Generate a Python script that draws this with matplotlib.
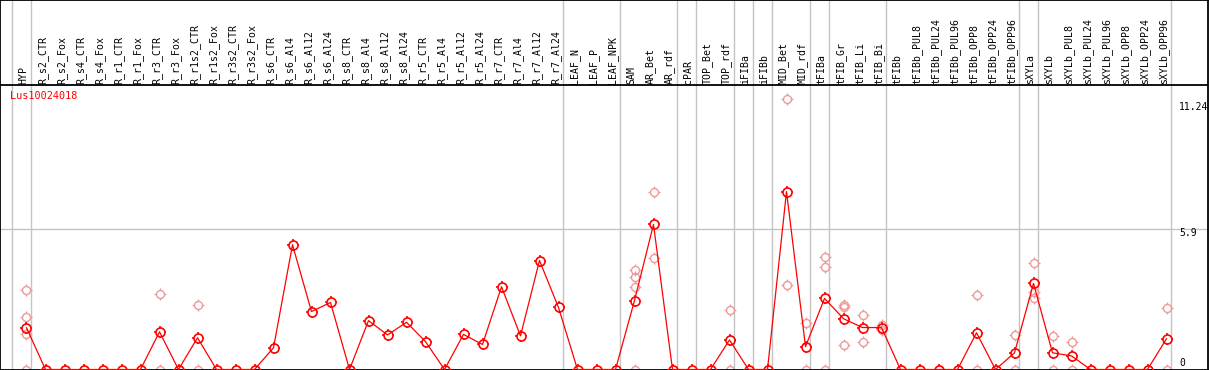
import matplotlib
matplotlib.use("Agg")
import matplotlib.pyplot as plt
from matplotlib.path import Path
import numpy as np

# ---------------- data ----------------
samples = ["HYP", "R_s2_CTR", "R_s2_Fox", "R_s4_CTR", "R_s4_Fox", "R_r1_CTR", "R_r1_Fox",
           "R_r3_CTR", "R_r3_Fox", "R_r1s2_CTR", "R_r1s2_Fox", "R_r3s2_CTR", "R_r3s2_Fox",
           "R_s6_CTR", "R_s6_Al4", "R_s6_Al12", "R_s6_Al24", "R_s8_CTR", "R_s8_Al4",
           "R_s8_Al12", "R_s8_Al24", "R_r5_CTR", "R_r5_Al4", "R_r5_Al12", "R_r5_Al24",
           "R_r7_CTR", "R_r7_Al4", "R_r7_Al12", "R_r7_Al24", "LEAF_N", "LEAF_P", "LEAF_NPK",
           "SAM", "AR_Bet", "AR_rdf", "cPAR", "TOP_Bet", "TOP_rdf", "iFIBa", "iFIBb",
           "MID_Bet", "MID_rdf", "tFIBa", "tFIB_Gr", "tFIB_Li", "tFIB_Bi", "tFIBb",
           "tFIBb_PUL8", "tFIBb_PUL24", "tFIBb_PUL96", "tFIBb_OPP8", "tFIBb_OPP24",
           "tFIBb_OPP96", "sXYLa", "sXYLb", "sXYLb_PUL8", "sXYLb_PUL24", "sXYLb_PUL96",
           "sXYLb_OPP8", "sXYLb_OPP24", "sXYLb_OPP96"]

means = [1.75, 0, 0, 0, 0, 0, 0,
         1.58, 0, 1.33, 0, 0, 0,
         0.91, 5.23, 2.43, 2.81, 0, 2.05,
         1.45, 1.98, 1.17, 0, 1.47, 1.05,
         3.47, 1.41, 4.57, 2.60, 0, 0, 0,
         2.89, 6.08, 0, 0, 0, 1.24, 0, 0,
         7.46, 0.96, 2.98, 2.13, 1.76, 1.76, 0,
         0, 0, 0, 1.54, 0,
         0.70, 3.61, 0.70, 0.57, 0, 0,
         0, 0, 1.29]

replicates = {
    "HYP": [3.34, 2.21, 1.50, 0],
    "R_r3_CTR": [3.17, 0],
    "R_r1s2_CTR": [2.71, 0],
    "SAM": [4.19, 3.89, 3.47, 0],
    "AR_Bet": [7.45, 4.68],
    "TOP_rdf": [2.50, 0],
    "MID_Bet": [11.35, 3.55],
    "MID_rdf": [1.97, 0],
    "tFIBa": [4.70, 4.28, 0],
    "tFIB_Gr": [2.71, 2.64, 1.04],
    "tFIB_Li": [2.29, 1.17],
    "tFIB_Bi": [1.87, 1.66],
    "tFIBb_OPP8": [3.13, 0],
    "tFIBb_OPP96": [1.45, 0],
    "sXYLa": [4.47, 3.27, 2.99],
    "sXYLb": [1.41, 0],
    "sXYLb_PUL8": [1.17, 0],
    "sXYLb_OPP96": [2.59, 0],
}

# group boundaries: gridline drawn just after these sample indices
group_ends = [-1, 0, 28, 31, 34, 35, 37, 38, 39, 41, 42, 45, 52, 53, 60]

gene = "Lus10024018"
y_ticks = [0, 5.9, 11.24]
y_tick_labels = ["0", "5.9", "11.24"]

# ---------------- layout ----------------
W, H = 1209, 370
K = 23.85          # pixels per unit
X0, DX = 26.5, 19.0  # pixel of first sample, spacing
AX_W = 1208

fig = plt.figure(figsize=(W / 100, H / 100), dpi=100)
ax = fig.add_axes([0, 0, AX_W / W, 1])
ax.set_xlim(-X0 / DX, (AX_W - X0) / DX)
ax.set_ylim(-0.5 / K, 369.5 / K)
ax.set_xticks([])
ax.set_yticks([])
for s in ax.spines.values():
    s.set_linewidth(1.3)
    s.set_color("black")

def row_to_val(row):
    return (369.5 - row) / K

GRID = "#c4c4c4"
for b in group_ends:
    ax.axvline(b + 4.5 / DX, color=GRID, lw=1.0, zorder=1)
ax.axhline(y_ticks[1], color=GRID, lw=1.0, zorder=1)
ax.axhline(row_to_val(85), color="black", lw=1.3, zorder=5)

# tick marks around the circular markers
tick_path = Path([(1, 0), (1.4, 0), (-1, 0), (-1.4, 0), (0, 1), (0, 1.4), (0, -1), (0, -1.4)],
                 [Path.MOVETO, Path.LINETO] * 4)

x = np.arange(len(samples))
rx, ry = [], []
for name, vals in replicates.items():
    i = samples.index(name)
    for v in vals:
        rx.append(i)
        ry.append(v)

PALE = "#ec9a9a"
RED = "#ff0000"
d_rep, d_mean = 8.0, 9.0  # marker diameters in px
ax.plot(rx, ry, linestyle="none", marker="o", markersize=d_rep * 0.72,
        markerfacecolor="none", markeredgecolor=PALE, markeredgewidth=1.0, zorder=2)
ax.plot(rx, ry, linestyle="none", marker=tick_path, markersize=d_rep * 1.4 * 0.72,
        markeredgecolor=PALE, markeredgewidth=1.0, zorder=2)
ax.plot(x, means, color=RED, lw=0.9, zorder=3)
ax.plot(x, means, linestyle="none", marker="o", markersize=d_mean * 0.72,
        markerfacecolor="none", markeredgecolor=RED, markeredgewidth=1.2, zorder=4)
ax.plot(x, means, linestyle="none", marker=tick_path, markersize=d_mean * 1.4 * 0.72,
        markeredgecolor=RED, markeredgewidth=1.2, zorder=4)

mono = "DejaVu Sans Mono"
for i, name in enumerate(samples):
    ax.text(i - 3.0 / DX, row_to_val(84), name, rotation=90, ha="center", va="bottom",
            fontsize=7.1, family=mono, color="black")

ax.text((10 - X0) / DX, row_to_val(96), gene, ha="left", va="center",
        fontsize=7.3, family=mono, color=RED)

lab_x = (1179 - X0) / DX
offsets = {0: 6.7, 1: -4.0, 2: -5.8}
for j, (v, lab) in enumerate(zip(y_ticks, y_tick_labels)):
    ax.annotate(lab, (lab_x, v), xytext=(0, offsets[j]), textcoords="offset pixels",
                ha="left", va="center", fontsize=7.0, family=mono, color="black")

fig.savefig("out.png", dpi=100)
